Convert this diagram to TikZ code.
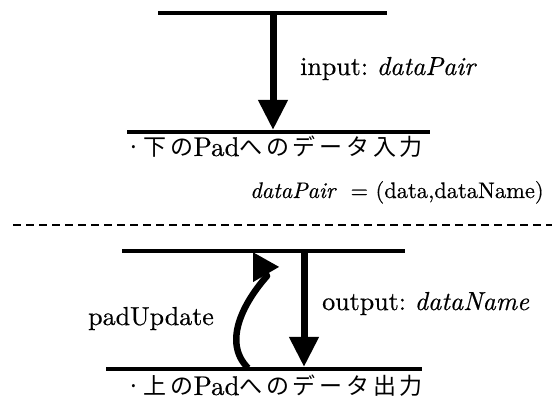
\documentclass[tikz,border=0pt]{standalone}
\usepackage{fontspec}
\usetikzlibrary{arrows.meta}
% Latin Modern, slightly emboldened for the labels
\setmainfont{lmroman10-regular.otf}[ItalicFont=lmroman10-italic.otf, FakeBold=0.5]
\newfontfamily\jpfont[LetterSpace=16]{Noto Sans CJK JP}

\tikzset{
  bar/.style={line width=3.2pt},
  sep/.style={line width=2.4pt, dash pattern=on 8pt off 5pt},
  flow/.style={line width=7pt, -{Triangle[length=30pt,width=28pt]}},
  wiggle/.style={line width=6.5pt, line join=round, -{Triangle[length=26pt,width=28pt]}},
  lbl/.style={inner sep=0pt, anchor=base west, font=\fontsize{26}{31}\selectfont},
  eqn/.style={inner sep=0pt, anchor=base west, font=\fontsize{22.5}{27}\selectfont},
  jp/.style={inner sep=0pt, anchor=base west, font=\fontsize{27}{32}\selectfont}
}
\newcommand{\jp}[1]{{\fontsize{23}{28}\jpfont #1}}

\begin{document}
\frenchspacing
\begin{tikzpicture}[x=1pt,y=-1pt]
\useasboundingbox (0,0) rectangle (552,403);

% upper half: input into the lower Pad
\coordinate (l1a) at (158,13);  \coordinate (l1b) at (387,13);
\coordinate (l2a) at (127,132); \coordinate (l2b) at (430,132);
\draw[bar] (l1a) -- (l1b);
\draw[bar] (l2a) -- (l2b);
\coordinate (inS) at (273,13);
\coordinate (inE) at (273,130);
\draw[flow] (inS) -- (inE);
\node[lbl] (inLbl) at (300,75) {input: \textit{dataPair}};
\node[jp] (downTxt) at (127,156) {\jp{·下の}Pad\jp{へのデータ入力}};
\node[eqn] (pairDef) at (250,198) {\textit{dataPair}\; = (data,dataName)};

% separator
\coordinate (sepA) at (13,225); \coordinate (sepB) at (552,225);
\draw[sep] (sepA) -- (sepB);

% lower half: output to the upper Pad
\coordinate (l3a) at (122,251); \coordinate (l3b) at (405,251);
\coordinate (l4a) at (106,369); \coordinate (l4b) at (422,369);
\draw[bar] (l3a) -- (l3b);
\draw[bar] (l4a) -- (l4b);
\coordinate (outS) at (304,251);
\coordinate (outE) at (304,367);
\draw[flow] (outS) -- (outE);
\node[lbl] (outLbl) at (322,310) {output: \textit{dataName}};

\coordinate (updS) at (248,368);
\coordinate (updM) at (267,276);
\coordinate (updT) at (253,252);
\draw[wiggle] (updS) .. controls (222,342) and (244,302) .. (updM) -- (updT);
\node[lbl] (updLbl) at (88,325) {padUpdate};
\node[jp] (upTxt) at (127,395) {\jp{·上の}Pad\jp{へのデータ出力}};
\end{tikzpicture}
\end{document}
